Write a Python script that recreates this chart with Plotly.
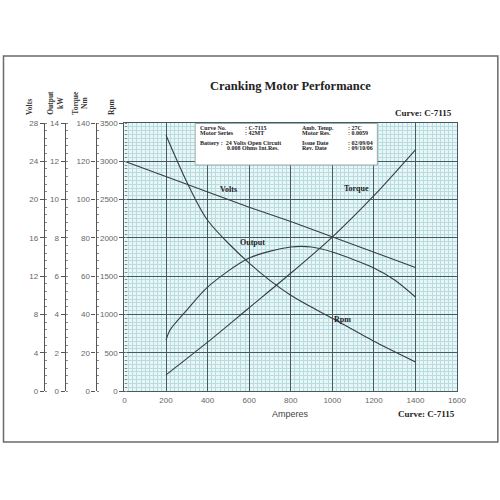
import plotly.graph_objects as go

# ---------------- data ----------------
volt_amps = [0, 200, 400, 600, 800, 1000, 1200, 1400]
volts = [24.0, 22.4, 20.8, 19.2, 17.7, 16.1, 14.5, 12.9]

out_amps = [200, 220, 300, 400, 600, 800, 900, 1000, 1200, 1300, 1400]
output_kw = [2.66, 3.2, 4.23, 5.43, 6.95, 7.52, 7.52, 7.26, 6.43, 5.8, 4.91]

torque_amps = [200, 400, 600, 800, 1000, 1200, 1400]
torque_nm = [8.4, 25.5, 43.5, 61.5, 80.4, 102.0, 126.0]

rpm_amps = [200, 300, 400, 600, 800, 1000, 1200, 1400]
rpm = [3340, 2730, 2230, 1670, 1250, 950, 650, 380]

x_ticks = [0, 200, 400, 600, 800, 1000, 1200, 1400, 1600]
rpm_ticks = [0, 500, 1000, 1500, 2000, 2500, 3000, 3500]
volt_ticks = [0, 4, 8, 12, 16, 20, 24, 28]
kw_ticks = [0, 2, 4, 6, 8, 10, 12, 14]
nm_ticks = [0, 20, 40, 60, 80, 100, 120, 140]

info_left = [("Curve No.", ": C-7115"), ("Motor Series", ": 42MT")]
info_right = [("Amb. Temp.", ": 27C"), ("Motor Res.", ": 0.0059"),
              ("Issue Date", ": 02/09/04"), ("Rev. Date", ": 09/10/06")]

# ---------------- geometry helpers ----------------
PLOT_L, PLOT_R, PLOT_T, PLOT_B = 123, 457, 123, 391


def px(x):
    return x / PLOT_R


def py(y):
    return (PLOT_B - y) / (PLOT_B - PLOT_T)


MAJOR = "#465a64"
MINOR = "#b9dce2"
BG = "#e8f6f6"
LINE = "#363f44"
TICKC = "#666666"
SANS = "Liberation Sans, Arial, sans-serif"
SERIF = "Liberation Serif, Times New Roman, serif"

fig = go.Figure()
line_style = dict(color=LINE, width=1.1, shape="spline", smoothing=0.8)
fig.add_trace(go.Scatter(x=volt_amps, y=volts, yaxis="y2", mode="lines",
                         line=dict(color=LINE, width=1.1), name="Volts"))
fig.add_trace(go.Scatter(x=out_amps, y=output_kw, yaxis="y3", mode="lines",
                         line=line_style, name="Output"))
fig.add_trace(go.Scatter(x=torque_amps, y=torque_nm, yaxis="y4", mode="lines",
                         line=line_style, name="Torque"))
fig.add_trace(go.Scatter(x=rpm_amps, y=rpm, yaxis="y", mode="lines",
                         line=line_style, name="Rpm"))

tickfont = dict(family=SANS, size=8, color=TICKC)


def side_axis(pos, rng, ticks):
    return dict(overlaying="y", anchor="free", position=px(pos), side="left",
                range=rng, tickvals=ticks, showgrid=False, zeroline=False,
                showline=True, linecolor="#555", linewidth=1.2,
                ticks="outside", ticklen=4, tickcolor="#555", tickfont=tickfont,
                minor=dict(ticks="inside", ticklen=2, tickcolor="#888",
                           dtick=(rng[1] / 35)),
                fixedrange=True)


fig.update_layout(
    width=500, height=500,
    margin=dict(l=0, r=500 - PLOT_R, t=PLOT_T, b=500 - PLOT_B),
    paper_bgcolor="white", plot_bgcolor=BG,
    showlegend=False,
    xaxis=dict(domain=[px(PLOT_L), 1], range=[0, 1600], tickvals=x_ticks,
               showgrid=True, gridcolor=MAJOR, gridwidth=1,
               minor=dict(dtick=20, showgrid=True, gridcolor=MINOR, gridwidth=0.6),
               zeroline=False, showline=True, mirror=True, linecolor=MAJOR,
               linewidth=1, ticks="", tickfont=tickfont, ticklabelstandoff=1),
    yaxis=dict(range=[0, 3500], tickvals=rpm_ticks, side="left",
               showgrid=True, gridcolor=MAJOR, gridwidth=1,
               minor=dict(dtick=50, showgrid=True, gridcolor=MINOR, gridwidth=0.6,
                          ticks="inside", ticklen=2, tickcolor="#888"),
               zeroline=False, showline=True, mirror=True, linecolor=MAJOR,
               linewidth=1.2, ticks="outside", ticklen=4, tickcolor="#555",
               tickfont=tickfont),
    yaxis2=side_axis(42, [0, 28], volt_ticks),
    yaxis3=side_axis(63, [0, 14], kw_ticks),
    yaxis4=side_axis(94, [0, 140], nm_ticks),
)

shapes = []
# outer frame
shapes.append(dict(type="rect", xref="paper", yref="paper",
                   x0=px(1.5), x1=px(498), y0=py(442), y1=py(56),
                   line=dict(color="#6a6a6a", width=1.5), fillcolor="rgba(0,0,0,0)",
                   layer="below"))
# info box
shapes.append(dict(type="rect", xref="paper", yref="paper",
                   x0=px(194), x1=px(377), y0=py(165), y1=py(123.5),
                   line=dict(color="#9aa", width=1), fillcolor="white", layer="above"))
fig.update_layout(shapes=shapes)

ann = []


def note(text, x, y, font, xanchor="center", xref="paper", yref="paper", **kw):
    ann.append(dict(text=text, x=x, y=y, xref=xref, yref=yref, xanchor=xanchor,
                    yanchor=kw.pop("yanchor", "middle"), showarrow=False,
                    borderpad=0, font=font, **kw))


titlefont = dict(family=SERIF, size=12.5, color="#222")
note("<b>Cranking Motor Performance</b>", px(290), py(86), titlefont)
cfont = dict(family=SERIF, size=9, color="#222")
note("<b>Curve: C-7115</b>", px(453), py(113), cfont, xanchor="right")
note("<b>Curve: C-7115</b>", px(456), py(414), cfont, xanchor="right")
note("Amperes", px(290), py(414), dict(family=SANS, size=9, color="#444"))

# vertical axis titles
vfont = dict(family=SERIF, size=7.5, color="#333")
for txt, xp in [("<b>Volts</b>", 27), ("<b>Output<br>kW</b>", 53),
                ("<b>Torque<br>Nm</b>", 78), ("<b>Rpm</b>", 110)]:
    note(txt, px(xp), py(116), vfont, textangle=-90, yanchor="bottom")

# curve labels
lfont = dict(family=SERIF, size=8, color="#222")
note("<b>Volts</b>", 500, 21.1, lfont, xref="x", yref="y2")
note("<b>Output</b>", 615, 7.75, lfont, xref="x", yref="y3")
note("<b>Torque</b>", 1115, 106, lfont, xref="x", yref="y4")
note("<b>Rpm</b>", 1050, 930, lfont, xref="x", yref="y")

# info box texts
bfont = dict(family=SERIF, size=6, color="#222")
rows = [127.8, 133.2, 142.8, 148.2]
for (k, v), yy in zip(info_left, rows[:2]):
    note("<b>%s</b>" % k, px(198), py(yy), bfont, xanchor="left")
    note("<b>%s</b>" % v, px(243), py(yy), bfont, xanchor="left")
note("<b>Battery :  24 Volts Open Circuit</b>", px(198), py(rows[2]), bfont,
     xanchor="left")
note("<b>0.008 Ohms Int.Res.</b>", px(225), py(rows[3]), bfont, xanchor="left")
for (k, v), yy in zip(info_right, rows):
    note("<b>%s</b>" % k, px(300), py(yy), bfont, xanchor="left")
    note("<b>%s</b>" % v, px(347), py(yy), bfont, xanchor="left")

fig.update_layout(annotations=ann)
fig.write_html("out.html", config={"displayModeBar": False},
               post_script="document.body.style.margin='0px';"
                           "document.body.style.overflow='hidden';")
